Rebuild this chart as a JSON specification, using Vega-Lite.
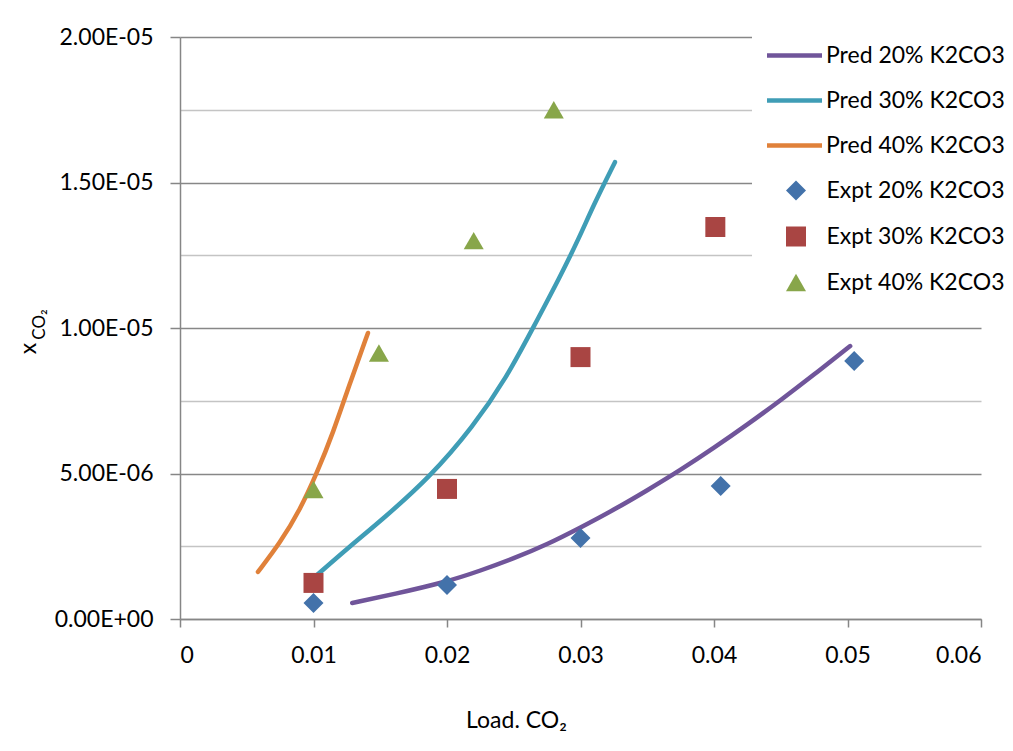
{
  "$schema": "https://vega.github.io/schema/vega-lite/v6.json",
  "width": 801,
  "height": 582,
  "autosize": {"type": "none"},
  "padding": {"left": 180, "top": 37, "right": 32, "bottom": 132},
  "background": "white",
  "config": {
    "font": "Lato",
    "view": {"stroke": null},
    "axis": {"labelColor": "black", "titleColor": "black", "titleFontWeight": "normal"}
  },
  "data": {
    "values": [
      {"series": "Pred 20% K2CO3", "kind": "Pred", "load": 0.0129, "xco2": 5.5e-7},
      {"series": "Pred 20% K2CO3", "kind": "Pred", "load": 0.016, "xco2": 8.5e-7},
      {"series": "Pred 20% K2CO3", "kind": "Pred", "load": 0.02, "xco2": 1.28e-6},
      {"series": "Pred 20% K2CO3", "kind": "Pred", "load": 0.0225, "xco2": 1.66e-6},
      {"series": "Pred 20% K2CO3", "kind": "Pred", "load": 0.025, "xco2": 2.08e-6},
      {"series": "Pred 20% K2CO3", "kind": "Pred", "load": 0.0275, "xco2": 2.56e-6},
      {"series": "Pred 20% K2CO3", "kind": "Pred", "load": 0.03, "xco2": 3.14e-6},
      {"series": "Pred 20% K2CO3", "kind": "Pred", "load": 0.0325, "xco2": 3.75e-6},
      {"series": "Pred 20% K2CO3", "kind": "Pred", "load": 0.035, "xco2": 4.42e-6},
      {"series": "Pred 20% K2CO3", "kind": "Pred", "load": 0.0375, "xco2": 5.12e-6},
      {"series": "Pred 20% K2CO3", "kind": "Pred", "load": 0.04, "xco2": 5.88e-6},
      {"series": "Pred 20% K2CO3", "kind": "Pred", "load": 0.0425, "xco2": 6.68e-6},
      {"series": "Pred 20% K2CO3", "kind": "Pred", "load": 0.045, "xco2": 7.52e-6},
      {"series": "Pred 20% K2CO3", "kind": "Pred", "load": 0.0475, "xco2": 8.4e-6},
      {"series": "Pred 20% K2CO3", "kind": "Pred", "load": 0.0502, "xco2": 9.38e-6},

      {"series": "Pred 30% K2CO3", "kind": "Pred", "load": 0.01026, "xco2": 1.51e-6},
      {"series": "Pred 30% K2CO3", "kind": "Pred", "load": 0.01273, "xco2": 2.5e-6},
      {"series": "Pred 30% K2CO3", "kind": "Pred", "load": 0.01521, "xco2": 3.44e-6},
      {"series": "Pred 30% K2CO3", "kind": "Pred", "load": 0.01873, "xco2": 4.88e-6},
      {"series": "Pred 30% K2CO3", "kind": "Pred", "load": 0.02195, "xco2": 6.6e-6},
      {"series": "Pred 30% K2CO3", "kind": "Pred", "load": 0.02449, "xco2": 8.32e-6},
      {"series": "Pred 30% K2CO3", "kind": "Pred", "load": 0.02644, "xco2": 10.0e-6},
      {"series": "Pred 30% K2CO3", "kind": "Pred", "load": 0.02846, "xco2": 11.75e-6},
      {"series": "Pred 30% K2CO3", "kind": "Pred", "load": 0.02996, "xco2": 13.16e-6},
      {"series": "Pred 30% K2CO3", "kind": "Pred", "load": 0.03094, "xco2": 14.19e-6},
      {"series": "Pred 30% K2CO3", "kind": "Pred", "load": 0.03258, "xco2": 15.7e-6},

      {"series": "Pred 40% K2CO3", "kind": "Pred", "load": 0.00584, "xco2": 1.62e-6},
      {"series": "Pred 40% K2CO3", "kind": "Pred", "load": 0.00749, "xco2": 2.61e-6},
      {"series": "Pred 40% K2CO3", "kind": "Pred", "load": 0.00899, "xco2": 3.75e-6},
      {"series": "Pred 40% K2CO3", "kind": "Pred", "load": 0.01026, "xco2": 5.02e-6},
      {"series": "Pred 40% K2CO3", "kind": "Pred", "load": 0.01146, "xco2": 6.39e-6},
      {"series": "Pred 40% K2CO3", "kind": "Pred", "load": 0.01273, "xco2": 8.11e-6},
      {"series": "Pred 40% K2CO3", "kind": "Pred", "load": 0.01408, "xco2": 9.83e-6},

      {"series": "Expt 20% K2CO3", "kind": "Expt", "load": 0.01, "xco2": 5.5e-7},
      {"series": "Expt 20% K2CO3", "kind": "Expt", "load": 0.02, "xco2": 1.17e-6},
      {"series": "Expt 20% K2CO3", "kind": "Expt", "load": 0.03, "xco2": 2.78e-6},
      {"series": "Expt 20% K2CO3", "kind": "Expt", "load": 0.0405, "xco2": 4.57e-6},
      {"series": "Expt 20% K2CO3", "kind": "Expt", "load": 0.0505, "xco2": 8.87e-6},

      {"series": "Expt 30% K2CO3", "kind": "Expt", "load": 0.01, "xco2": 1.24e-6},
      {"series": "Expt 30% K2CO3", "kind": "Expt", "load": 0.02, "xco2": 4.47e-6},
      {"series": "Expt 30% K2CO3", "kind": "Expt", "load": 0.03, "xco2": 9.0e-6},
      {"series": "Expt 30% K2CO3", "kind": "Expt", "load": 0.0401, "xco2": 13.47e-6},

      {"series": "Expt 40% K2CO3", "kind": "Expt", "load": 0.01, "xco2": 4.45e-6},
      {"series": "Expt 40% K2CO3", "kind": "Expt", "load": 0.0149, "xco2": 9.14e-6},
      {"series": "Expt 40% K2CO3", "kind": "Expt", "load": 0.022, "xco2": 13.0e-6},
      {"series": "Expt 40% K2CO3", "kind": "Expt", "load": 0.028, "xco2": 17.5e-6}
    ]
  },
  "layer": [
    {
      "transform": [{"filter": "datum.kind === 'Pred'"}],
      "mark": {"type": "line", "strokeWidth": 4.5, "strokeCap": "round", "strokeJoin": "round", "interpolate": "basis"},
      "encoding": {
        "x": {
          "field": "load", "type": "quantitative",
          "scale": {"domain": [0, 0.06], "nice": false, "zero": false},
          "axis": {
            "values": [0, 0.01, 0.02, 0.03, 0.04, 0.05, 0.06],
            "labelExpr": "format(datum.value, '~g')",
            "grid": false,
            "domainColor": "#868686", "domainWidth": 1.5,
            "tickColor": "#868686", "tickWidth": 1.5, "tickSize": 8,
            "labelFontSize": 23, "labelPadding": 17,
            "title": "Load. CO₂", "titleFontSize": 23,
            "titleX": 336, "titleY": 108, "titleAlign": "center", "titleBaseline": "alphabetic"
          }
        },
        "y": {
          "field": "xco2", "type": "quantitative",
          "scale": {"domain": [0, 2e-5], "nice": false, "zero": true},
          "axis": {
            "values": [0, 5e-6, 1e-5, 1.5e-5, 2e-5],
            "labelExpr": "replace(replace(format(datum.value, '.2e'), 'e-', 'E-0'), 'e+', 'E+0')",
            "grid": true, "gridColor": "#878787", "gridWidth": 1.3,
            "domainColor": "#868686", "domainWidth": 1.5,
            "tickColor": "#868686", "tickWidth": 1.5, "tickSize": 10,
            "labelFontSize": 23, "labelPadding": 17,
            "title": "x", "titleFontSize": 23, "titleAngle": -90,
            "titleX": -145, "titleY": 311, "titleAlign": "center", "titleBaseline": "alphabetic"
          }
        },
        "stroke": {
          "field": "series", "type": "nominal",
          "scale": {
            "domain": ["Pred 20% K2CO3", "Pred 30% K2CO3", "Pred 40% K2CO3"],
            "range": ["#70559A", "#3F9DB6", "#E0813A"]
          },
          "legend": {
            "title": null, "orient": "none", "legendX": 572, "legendY": -9,
            "padding": 15, "fillColor": "white",
            "labelFont": "Lato", "labelFontSize": 23, "labelColor": "black", "labelLimit": 400,
            "labelOffset": 19, "symbolOffset": 15, "symbolSize": 400, "symbolStrokeWidth": 4.5,
            "symbolType": "M-2.75,0H2.75",
            "rowPadding": 20
          }
        }
      }
    },
    {
      "transform": [{"filter": "datum.kind === 'Expt'"}],
      "mark": {"type": "point", "filled": true, "size": 400, "opacity": 1, "strokeWidth": 0},
      "encoding": {
        "x": {
          "field": "load", "type": "quantitative",
          "scale": {"domain": [0, 0.06], "nice": false, "zero": false},
          "axis": {
            "values": [0, 0.01, 0.02, 0.03, 0.04, 0.05, 0.06],
            "labelExpr": "format(datum.value, '~g')",
            "grid": false,
            "domainColor": "#868686", "domainWidth": 1.5,
            "tickColor": "#868686", "tickWidth": 1.5, "tickSize": 8,
            "labelFontSize": 23, "labelPadding": 17,
            "title": "Load. CO₂", "titleFontSize": 23,
            "titleX": 336, "titleY": 108, "titleAlign": "center", "titleBaseline": "alphabetic"
          }
        },
        "y": {
          "field": "xco2", "type": "quantitative",
          "scale": {"domain": [0, 2e-5], "nice": false, "zero": true},
          "axis": {
            "orient": "left",
            "values": [2.5e-6, 7.5e-6, 1.25e-5, 1.75e-5],
            "grid": true, "gridColor": "#C4C4C4", "gridWidth": 1.3,
            "domain": false, "ticks": false, "labels": false,
            "title": "CO₂", "titleFontSize": 17, "titleAngle": -90,
            "titleX": -136, "titleY": 287, "titleAlign": "center", "titleBaseline": "alphabetic"
          }
        },
        "fill": {
          "field": "series", "type": "nominal",
          "scale": {
            "domain": ["Expt 20% K2CO3", "Expt 30% K2CO3", "Expt 40% K2CO3"],
            "range": ["#4372AA", "#A94543", "#88A64A"]
          },
          "legend": {
            "title": null, "orient": "none", "legendX": 572, "legendY": 127,
            "padding": 15, "fillColor": "white",
            "labelFont": "Lato", "labelFontSize": 23, "labelColor": "black", "labelLimit": 400,
            "labelOffset": 19, "symbolOffset": 17.5, "symbolSize": 400, "symbolStrokeWidth": 0,
            "rowPadding": 22
          }
        },
        "shape": {
          "field": "series", "type": "nominal",
          "scale": {
            "domain": ["Expt 20% K2CO3", "Expt 30% K2CO3", "Expt 40% K2CO3"],
            "range": ["diamond", "square", "triangle-up"]
          },
          "legend": {
            "title": null, "orient": "none", "legendX": 572, "legendY": 127,
            "padding": 15, "fillColor": "white",
            "labelFont": "Lato", "labelFontSize": 23, "labelColor": "black", "labelLimit": 400,
            "labelOffset": 19, "symbolOffset": 17.5, "symbolSize": 400, "symbolStrokeWidth": 0,
            "rowPadding": 22
          }
        }
      }
    }
  ],
  "resolve": {"axis": {"y": "independent"}}
}
